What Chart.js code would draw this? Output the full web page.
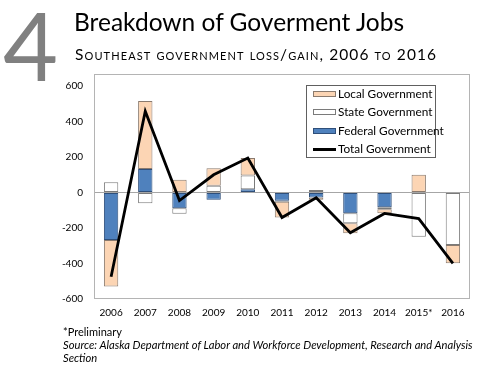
<!DOCTYPE html>
<html><head><meta charset="utf-8">
<script src="https://cdn.jsdelivr.net/npm/chart.js@4"></script>
<style>
html,body{margin:0;padding:0;background:#fff;}
#wrap{position:relative;width:500px;height:378px;overflow:hidden;font-family:Lato, sans-serif;color:#000;}
canvas{position:absolute;left:0;top:0;}
.t{position:absolute;white-space:nowrap;line-height:1;}
#legend{position:absolute;left:306px;top:85px;width:130px;height:73px;border:1px solid #606060;background:#fff;box-sizing:border-box;}
.li{position:absolute;left:6px;height:14px;font-size:11.8px;line-height:14px;white-space:nowrap;}
.sw{position:absolute;left:0;top:4px;width:23px;height:6px;box-sizing:border-box;}
.lt{position:absolute;left:25px;top:0;}
</style></head><body>
<div id="wrap">
<canvas id="c" width="500" height="378"></canvas>
<div class="t" style="left:3px;top:-3px;font-size:95px;color:#808080;font-weight:400;">4</div>
<div class="t" style="left:74px;top:10px;font-size:24.5px;">Breakdown of Goverment Jobs</div>
<div class="t" style="left:75px;top:47px;font-size:15.5px;font-variant:small-caps;letter-spacing:1.1px;">Southeast government loss/gain, 2006 to 2016</div>
<div class="t" style="left:63px;top:326px;font-size:11px;">*Preliminary</div>
<div class="t" style="left:63px;top:339px;font-size:11.2px;font-style:italic;">Source: Alaska Department of Labor and Workforce Development, Research and Analysis</div>
<div class="t" style="left:63px;top:352px;font-size:11.2px;font-style:italic;">Section</div>
<div id="legend"></div>
</div>
<script>
const categories = ['2006','2007','2008','2009','2010','2011','2012','2013','2014','2015*','2016'];
const federalGov = [-267, 132, -88, -41, 19, -47, -28, -117, -83, null, null];
const stateGov   = [58, -60, -31, 38, 77, -5, 14, -56, -11, -249, -296];
const localGov   = [-262, 384, 72, 99, 98, -89, -13, -57, -23, 100, -103];
const totalGov   = [-475, 458, -45, 100, 194, -141, -30, -226, -118, -147, -399];
const yTickValues = [-600, -400, -200, 0, 200, 400, 600];

const framePlugin = {
  id:'frame',
  beforeDatasetsDraw(chart){
    const a = chart.chartArea, ctx = chart.ctx;
    ctx.save();
    ctx.strokeStyle = '#b4b4b4';
    ctx.lineWidth = 1;
    ctx.strokeRect(Math.round(a.left)+0.5, Math.round(a.top)+0.5, Math.round(a.right-a.left)-1, Math.round(a.bottom-a.top)-1);
    ctx.restore();
  }
};

const barCommon = {barPercentage:0.42, categoryPercentage:1.0, borderWidth:1, borderSkipped:false, stack:'bars', type:'bar', order:1};

new Chart(document.getElementById('c'), {
  data:{
    labels:categories,
    datasets:[
      Object.assign({label:'Federal Government', data:federalGov, backgroundColor:'#4F81BD', borderColor:'#2f4f7a'}, barCommon),
      Object.assign({label:'State Government', data:stateGov, backgroundColor:'#FFFFFF', borderColor:'#7a7a7a'}, barCommon),
      Object.assign({label:'Local Government', data:localGov, backgroundColor:'#FCD5B4', borderColor:'#8a7a6e'}, barCommon),
      {type:'line', label:'Total Government', data:totalGov, borderColor:'#000', borderWidth:2.8, pointRadius:0, tension:0, stack:'line', order:0, fill:false}
    ]
  },
  options:{
    responsive:false, animation:false, devicePixelRatio:1,
    layout:{padding:{left:50, right:30, top:74, bottom:49}},
    plugins:{legend:{display:false}, tooltip:{enabled:false}},
    scales:{
      x:{stacked:true, grid:{display:false, drawTicks:false}, border:{display:false},
         ticks:{color:'#000', font:{family:'Lato', size:10}, padding:8, maxRotation:0, autoSkip:false},
         afterFit(s){ s.height = 30; }},
      y:{stacked:true, min:-600, max:668,
         afterBuildTicks(s){ s.ticks = yTickValues.map(v=>({value:v})); },
         grid:{drawTicks:false, color:(c)=> (c.tick && c.tick.value===0) ? '#a6a6a6' : 'rgba(0,0,0,0)', lineWidth:1},
         border:{display:false},
         ticks:{color:'#000', font:{family:'Lato', size:10}, padding:11},
         afterFit(s){ s.width = 44; }}
    }
  },
  plugins:[framePlugin]
});

// legend
const lg = document.getElementById('legend');
const entries = [
  {label:'Local Government', sw:'background:#FCD5B4;border:1px solid #8a7a6e;'},
  {label:'State Government', sw:'background:#fff;border:1px solid #7a7a7a;'},
  {label:'Federal Government', sw:'background:#4F81BD;border:1px solid #2f4f7a;'},
  {label:'Total Government', sw:'background:#000;height:3px;top:6px;'}
];
entries.forEach((e,i)=>{
  const d = document.createElement('div');
  d.className='li'; d.style.top = (1 + i*18.3)+'px';
  d.innerHTML = '<div class="sw" style="'+e.sw+'"></div><div class="lt">'+e.label+'</div>';
  lg.appendChild(d);
});
</script>
</body></html>
